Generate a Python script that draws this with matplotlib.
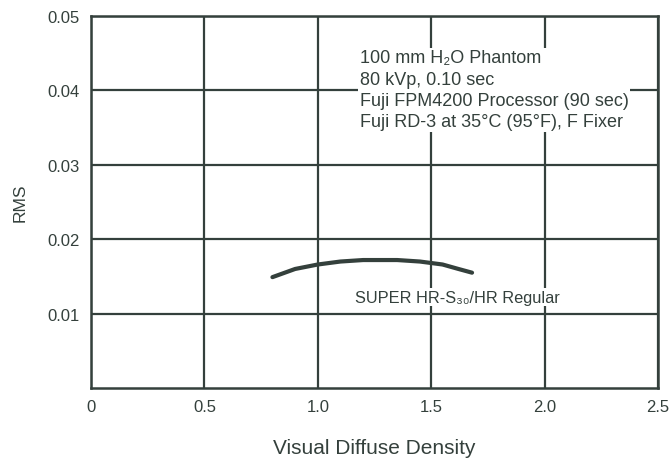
import numpy as np
import matplotlib
matplotlib.use("Agg")
import matplotlib.pyplot as plt

plt.rcParams['font.family'] = ['Liberation Sans', 'DejaVu Sans']

# curve
density = [0.80, 0.90, 1.00, 1.10, 1.20, 1.27, 1.35, 1.45, 1.55, 1.62, 1.68]
rms = [0.0149, 0.0160, 0.0166, 0.0170, 0.0172, 0.0172, 0.0172, 0.0170, 0.0166, 0.0160, 0.0155]

xticks = [0, 0.5, 1.0, 1.5, 2.0, 2.5]
xticklabels = ['0', '0.5', '1.0', '1.5', '2.0', '2.5']
yticks = [0.01, 0.02, 0.03, 0.04, 0.05]
yticklabels = ['0.01', '0.02', '0.03', '0.04', '0.05']

note_lines = ['100 mm H\u2082O Phantom', '80 kVp, 0.10 sec',
              'Fuji FPM4200 Processor (90 sec)', 'Fuji RD-3 at 35\u00b0C (95\u00b0F), F Fixer']
curve_label = 'SUPER HR-S\u2083\u2080/HR Regular'

ink = '#34403c'

fig = plt.figure(figsize=(6.72, 4.64), dpi=100)
ax = fig.add_axes([0.1354, 0.1616, 0.8438, 0.8018])

ax.plot(density, rms, color=ink, lw=3.0, solid_capstyle='round', solid_joinstyle='round')

ax.set_xlim(0, 2.5)
ax.set_ylim(0, 0.05)
ax.set_xticks(xticks)
ax.set_xticklabels(xticklabels)
ax.set_yticks(yticks)
ax.set_yticklabels(yticklabels)
ax.tick_params(length=0, labelsize=12, colors=ink, pad=8)
ax.grid(True, color=ink, lw=1.6)
for s in ax.spines.values():
    s.set_color(ink)
    s.set_linewidth(1.8)

ax.set_xlabel('Visual Diffuse Density', fontsize=15, color=ink, labelpad=17)
ax.set_ylabel('RMS', fontsize=12.5, color=ink, labelpad=14)

ax.text(1.185, 0.0455, '\n'.join(note_lines), fontsize=13, color=ink,
        va='top', ha='left', linespacing=1.33,
        bbox=dict(facecolor='white', edgecolor='none', pad=1))
ax.text(1.165, 0.0122, curve_label, fontsize=11.8, color=ink, va='center', ha='left',
        bbox=dict(facecolor='white', edgecolor='none', pad=1))

fig.savefig('out.png', dpi=100)
